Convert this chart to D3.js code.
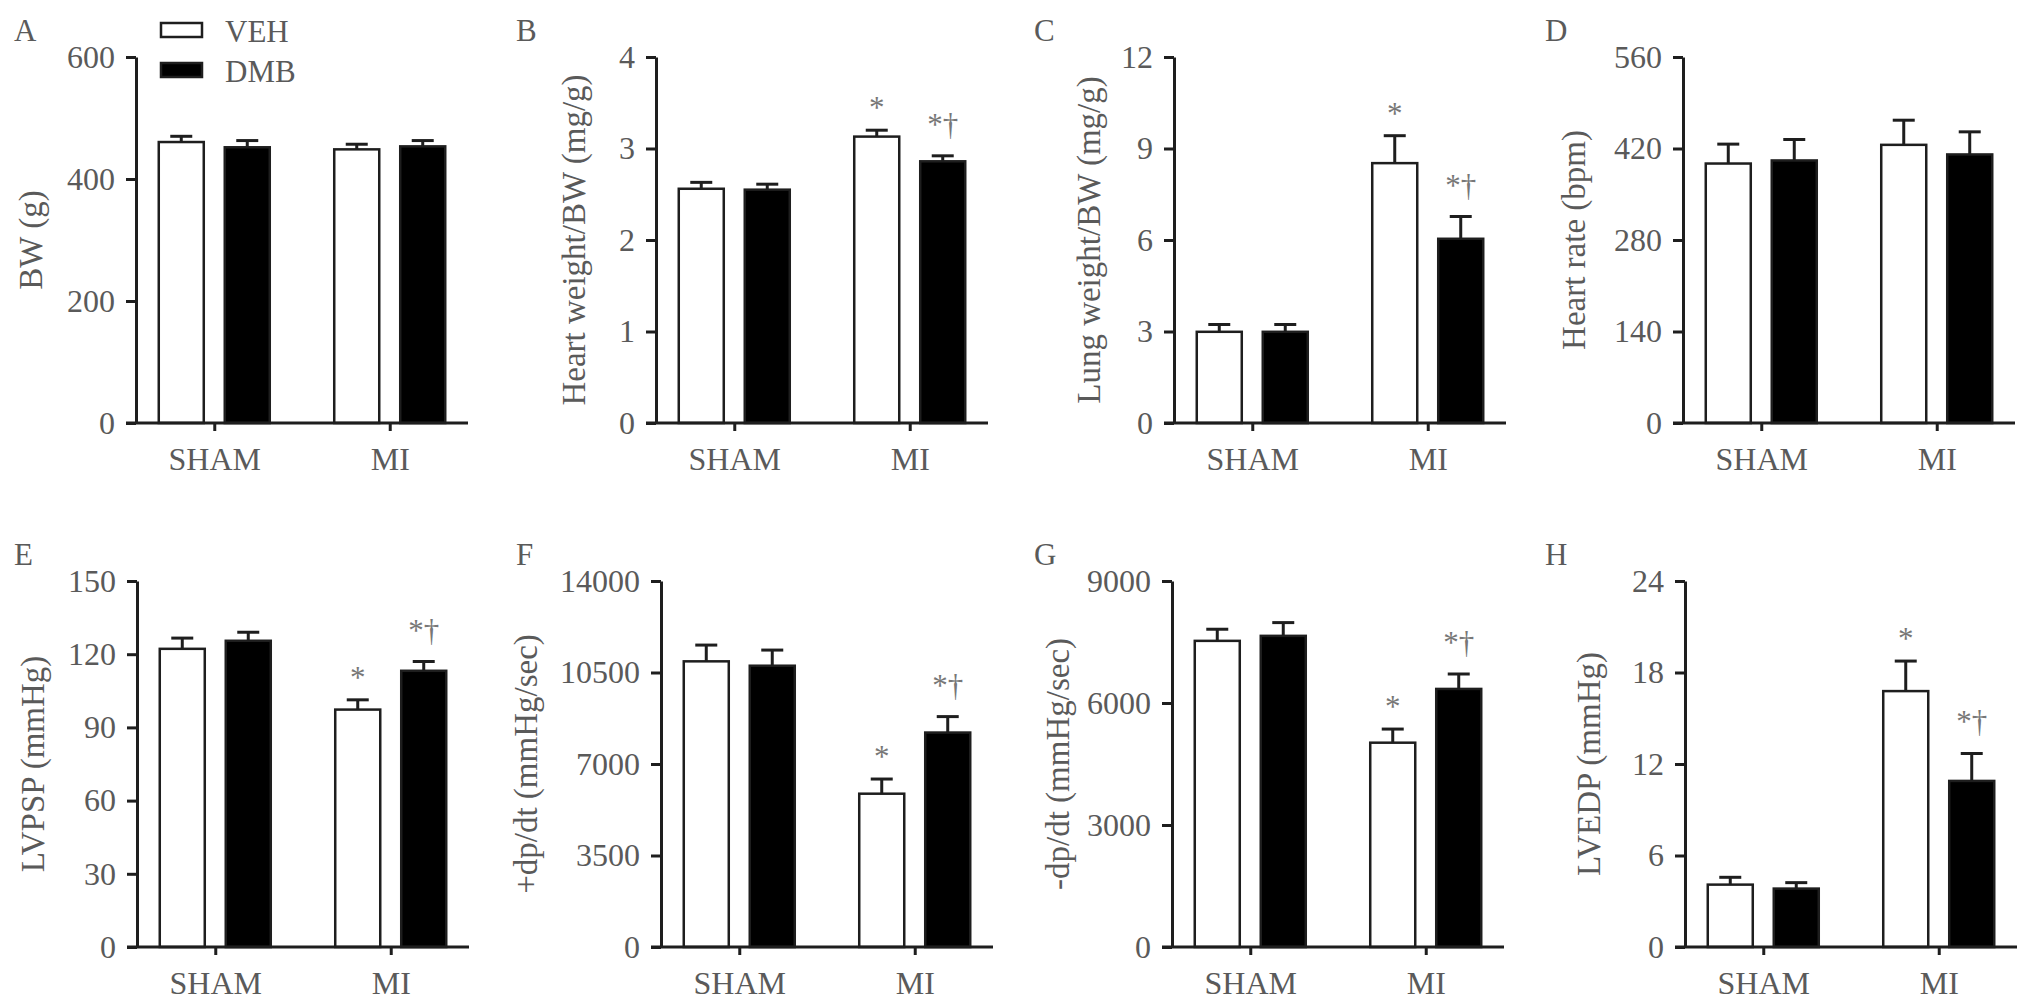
<!DOCTYPE html>
<html>
<head>
<meta charset="utf-8">
<script src="https://cdn.jsdelivr.net/npm/d3@7"></script>
<style>
  body { margin: 0; background: #fff; }
  text { font-family: "Liberation Serif", "Times New Roman", serif; }
</style>
</head>
<body>
<svg id="chart"></svg>
<script>
var groups = ["SHAM", "MI"];
var series = ["VEH", "DMB"];

// A: body weight
var bwVEH = [460.6, 448.6], bwVEHsem = [9.4, 8.4];
var bwDMB = [452.0, 453.5], bwDMBsem = [11.0, 9.5];
var bwTicks = [0, 200, 400, 600];
// B: heart weight / BW
var hwVEH = [2.56, 3.13], hwVEHsem = [0.07, 0.07];
var hwDMB = [2.55, 2.86], hwDMBsem = [0.06, 0.06];
var hwTicks = [0, 1, 2, 3, 4];
// C: lung weight / BW
var lwVEH = [2.99, 8.52], lwVEHsem = [0.24, 0.90];
var lwDMB = [2.99, 6.04], lwDMBsem = [0.24, 0.73];
var lwTicks = [0, 3, 6, 9, 12];
// D: heart rate
var hrVEH = [397, 425.6], hrVEHsem = [29.7, 37.7];
var hrDMB = [401.7, 410.9], hrDMBsem = [32.1, 34.6];
var hrTicks = [0, 140, 280, 420, 560];
// E: LVPSP
var spVEH = [122.2, 97.3], spVEHsem = [4.4, 4.0];
var spDMB = [125.5, 113.2], spDMBsem = [3.5, 3.8];
var spTicks = [0, 30, 60, 90, 120, 150];
// F: +dp/dt
var pdVEH = [10927, 5864], pdVEHsem = [622, 561];
var pdDMB = [10759, 8203], pdDMBsem = [599, 610];
var pdTicks = [0, 3500, 7000, 10500, 14000];
// G: -dp/dt
var ndVEH = [7528, 5024], ndVEHsem = [286, 335];
var ndDMB = [7651, 6346], ndDMBsem = [326, 367];
var ndTicks = [0, 3000, 6000, 9000];
// H: LVEDP
var edVEH = [4.09, 16.78], edVEHsem = [0.48, 1.97];
var edDMB = [3.83, 10.89], edDMBsem = [0.39, 1.80];
var edTicks = [0, 6, 12, 18, 24];

var noMarksVEH = ["", ""], noMarksDMB = ["", ""];
var sigMarksVEH = ["", "*"], sigMarksDMB = ["", "*\u2020"];

var width = 2031, height = 1005;
var plotW = 332, plotH = 366;
var rowTop = [57, 581];
var letterX = [14, 516, 1034, 1545];

var svg = d3.select("#chart").attr("width", width).attr("height", height);

var panels = [
  {letter: "A", row: 0, col: 0, ax: 136, tOff: -106, title: "BW (g)", ticks: bwTicks,
   veh: bwVEH, vehSem: bwVEHsem, dmb: bwDMB, dmbSem: bwDMBsem, mv: noMarksVEH, md: noMarksDMB},
  {letter: "B", row: 0, col: 1, ax: 656, tOff: -83, title: "Heart weight/BW (mg/g)", ticks: hwTicks,
   veh: hwVEH, vehSem: hwVEHsem, dmb: hwDMB, dmbSem: hwDMBsem, mv: sigMarksVEH, md: sigMarksDMB},
  {letter: "C", row: 0, col: 2, ax: 1174, tOff: -86, title: "Lung weight/BW (mg/g)", ticks: lwTicks,
   veh: lwVEH, vehSem: lwVEHsem, dmb: lwDMB, dmbSem: lwDMBsem, mv: sigMarksVEH, md: sigMarksDMB},
  {letter: "D", row: 0, col: 3, ax: 1683, tOff: -110, title: "Heart rate (bpm)", ticks: hrTicks,
   veh: hrVEH, vehSem: hrVEHsem, dmb: hrDMB, dmbSem: hrDMBsem, mv: noMarksVEH, md: noMarksDMB},
  {letter: "E", row: 1, col: 0, ax: 137, tOff: -105, title: "LVPSP (mmHg)", ticks: spTicks,
   veh: spVEH, vehSem: spVEHsem, dmb: spDMB, dmbSem: spDMBsem, mv: sigMarksVEH, md: sigMarksDMB},
  {letter: "F", row: 1, col: 1, ax: 661, tOff: -136, title: "+dp/dt (mmHg/sec)", ticks: pdTicks,
   veh: pdVEH, vehSem: pdVEHsem, dmb: pdDMB, dmbSem: pdDMBsem, mv: sigMarksVEH, md: sigMarksDMB},
  {letter: "G", row: 1, col: 2, ax: 1172, tOff: -115, title: "-dp/dt (mmHg/sec)", ticks: ndTicks,
   veh: ndVEH, vehSem: ndVEHsem, dmb: ndDMB, dmbSem: ndDMBsem, mv: sigMarksVEH, md: sigMarksDMB},
  {letter: "H", row: 1, col: 3, ax: 1685, tOff: -97, title: "LVEDP (mmHg)", ticks: edTicks,
   veh: edVEH, vehSem: edVEHsem, dmb: edDMB, dmbSem: edDMBsem, mv: sigMarksVEH, md: sigMarksDMB}
];

var axisColor = "#1e1e1e", textColor = "#5a5a5a", markColor = "#777";

panels.forEach(drawPanel);

function drawPanel(p) {
  var top = rowTop[p.row];
  var g = svg.append("g").attr("transform", "translate(" + p.ax + "," + top + ")");

  var y = d3.scaleLinear().domain([0, d3.max(p.ticks)]).range([plotH, 0]);
  var x = d3.scalePoint().domain(groups).range([0, plotW]).padding(0.446);
  var xs = d3.scaleBand().domain(series).range([-55.5, 55.5]).paddingInner(0.318);

  // flatten into bar records
  var bars = [];
  groups.forEach(function(grp, i) {
    bars.push({grp: grp, s: "VEH", v: p.veh[i], e: p.vehSem[i], mark: p.mv[i]});
    bars.push({grp: grp, s: "DMB", v: p.dmb[i], e: p.dmbSem[i], mark: p.md[i]});
  });

  g.selectAll(".bar")
    .data(bars)
    .enter().append("rect")
      .attr("class", "bar")
      .attr("x", function(d) { return x(d.grp) + xs(d.s); })
      .attr("y", function(d) { return y(d.v); })
      .attr("width", xs.bandwidth())
      .attr("height", function(d) { return plotH - y(d.v); })
      .attr("fill", function(d) { return d.s == "VEH" ? "#fff" : "#000"; })
      .attr("stroke", axisColor)
      .attr("stroke-width", 2.5);

  // error bars (upper only)
  var eb = g.selectAll(".err")
    .data(bars)
    .enter().append("g")
      .attr("class", "err")
      .attr("transform", function(d) { return "translate(" + (x(d.grp) + xs(d.s) + xs.bandwidth() / 2) + ",0)"; });
  eb.append("line")
      .attr("y1", function(d) { return y(d.v); })
      .attr("y2", function(d) { return y(d.v + d.e); })
      .attr("stroke", axisColor).attr("stroke-width", 3);
  eb.append("line")
      .attr("x1", -11).attr("x2", 11)
      .attr("y1", function(d) { return y(d.v + d.e); })
      .attr("y2", function(d) { return y(d.v + d.e); })
      .attr("stroke", axisColor).attr("stroke-width", 3);

  // significance marks
  eb.filter(function(d) { return d.mark != ""; })
    .append("text")
      .attr("text-anchor", "middle")
      .attr("y", function(d) { return y(d.v + d.e) - (d.mark.length > 1 ? 21 : 12); })
      .attr("fill", markColor)
      .attr("font-size", 31)
      .text(function(d) { return d.mark; });

  // y axis
  var ya = g.append("g")
      .call(d3.axisLeft(y).tickValues(p.ticks).tickSize(10).tickSizeOuter(0).tickPadding(11).tickFormat(d3.format("d")));
  ya.selectAll("line, path").attr("stroke", axisColor).attr("stroke-width", 3);
  ya.selectAll("text").attr("font-size", 32).attr("fill", textColor)
      .style("font-family", "Liberation Serif");

  // x axis
  var xa = g.append("g")
      .attr("transform", "translate(0," + plotH + ")")
      .call(d3.axisBottom(x).tickSize(8).tickSizeOuter(0).tickPadding(16));
  xa.select(".domain").attr("d", "M-10,0H" + plotW);
  xa.selectAll("line, path").attr("stroke", axisColor).attr("stroke-width", 3);
  xa.selectAll("text").attr("font-size", 32).attr("fill", textColor)
      .style("font-family", "Liberation Serif");

  // y title
  g.append("text")
      .attr("transform", "rotate(-90)")
      .attr("x", -plotH / 2)
      .attr("y", p.tOff)
      .attr("dy", "0.35em")
      .attr("text-anchor", "middle")
      .attr("font-size", 33)
      .attr("fill", textColor)
      .text(p.title);

  // panel letter
  svg.append("text")
      .attr("x", letterX[p.col])
      .attr("y", top - 16)
      .attr("font-size", 31)
      .attr("fill", textColor)
      .text(p.letter);
}

// legend in panel A
var leg = svg.append("g").attr("transform", "translate(160,22)");
series.forEach(function(s, i) {
  leg.append("rect")
    .attr("x", 1).attr("y", i * 40 + 1)
    .attr("width", 41).attr("height", 14)
    .attr("fill", s == "VEH" ? "#fff" : "#000")
    .attr("stroke", axisColor).attr("stroke-width", 2.5);
  leg.append("text")
    .attr("x", 65).attr("y", i * 40 + 20)
    .attr("font-size", 31)
    .attr("fill", textColor)
    .text(s);
});
</script>
</body>
</html>
